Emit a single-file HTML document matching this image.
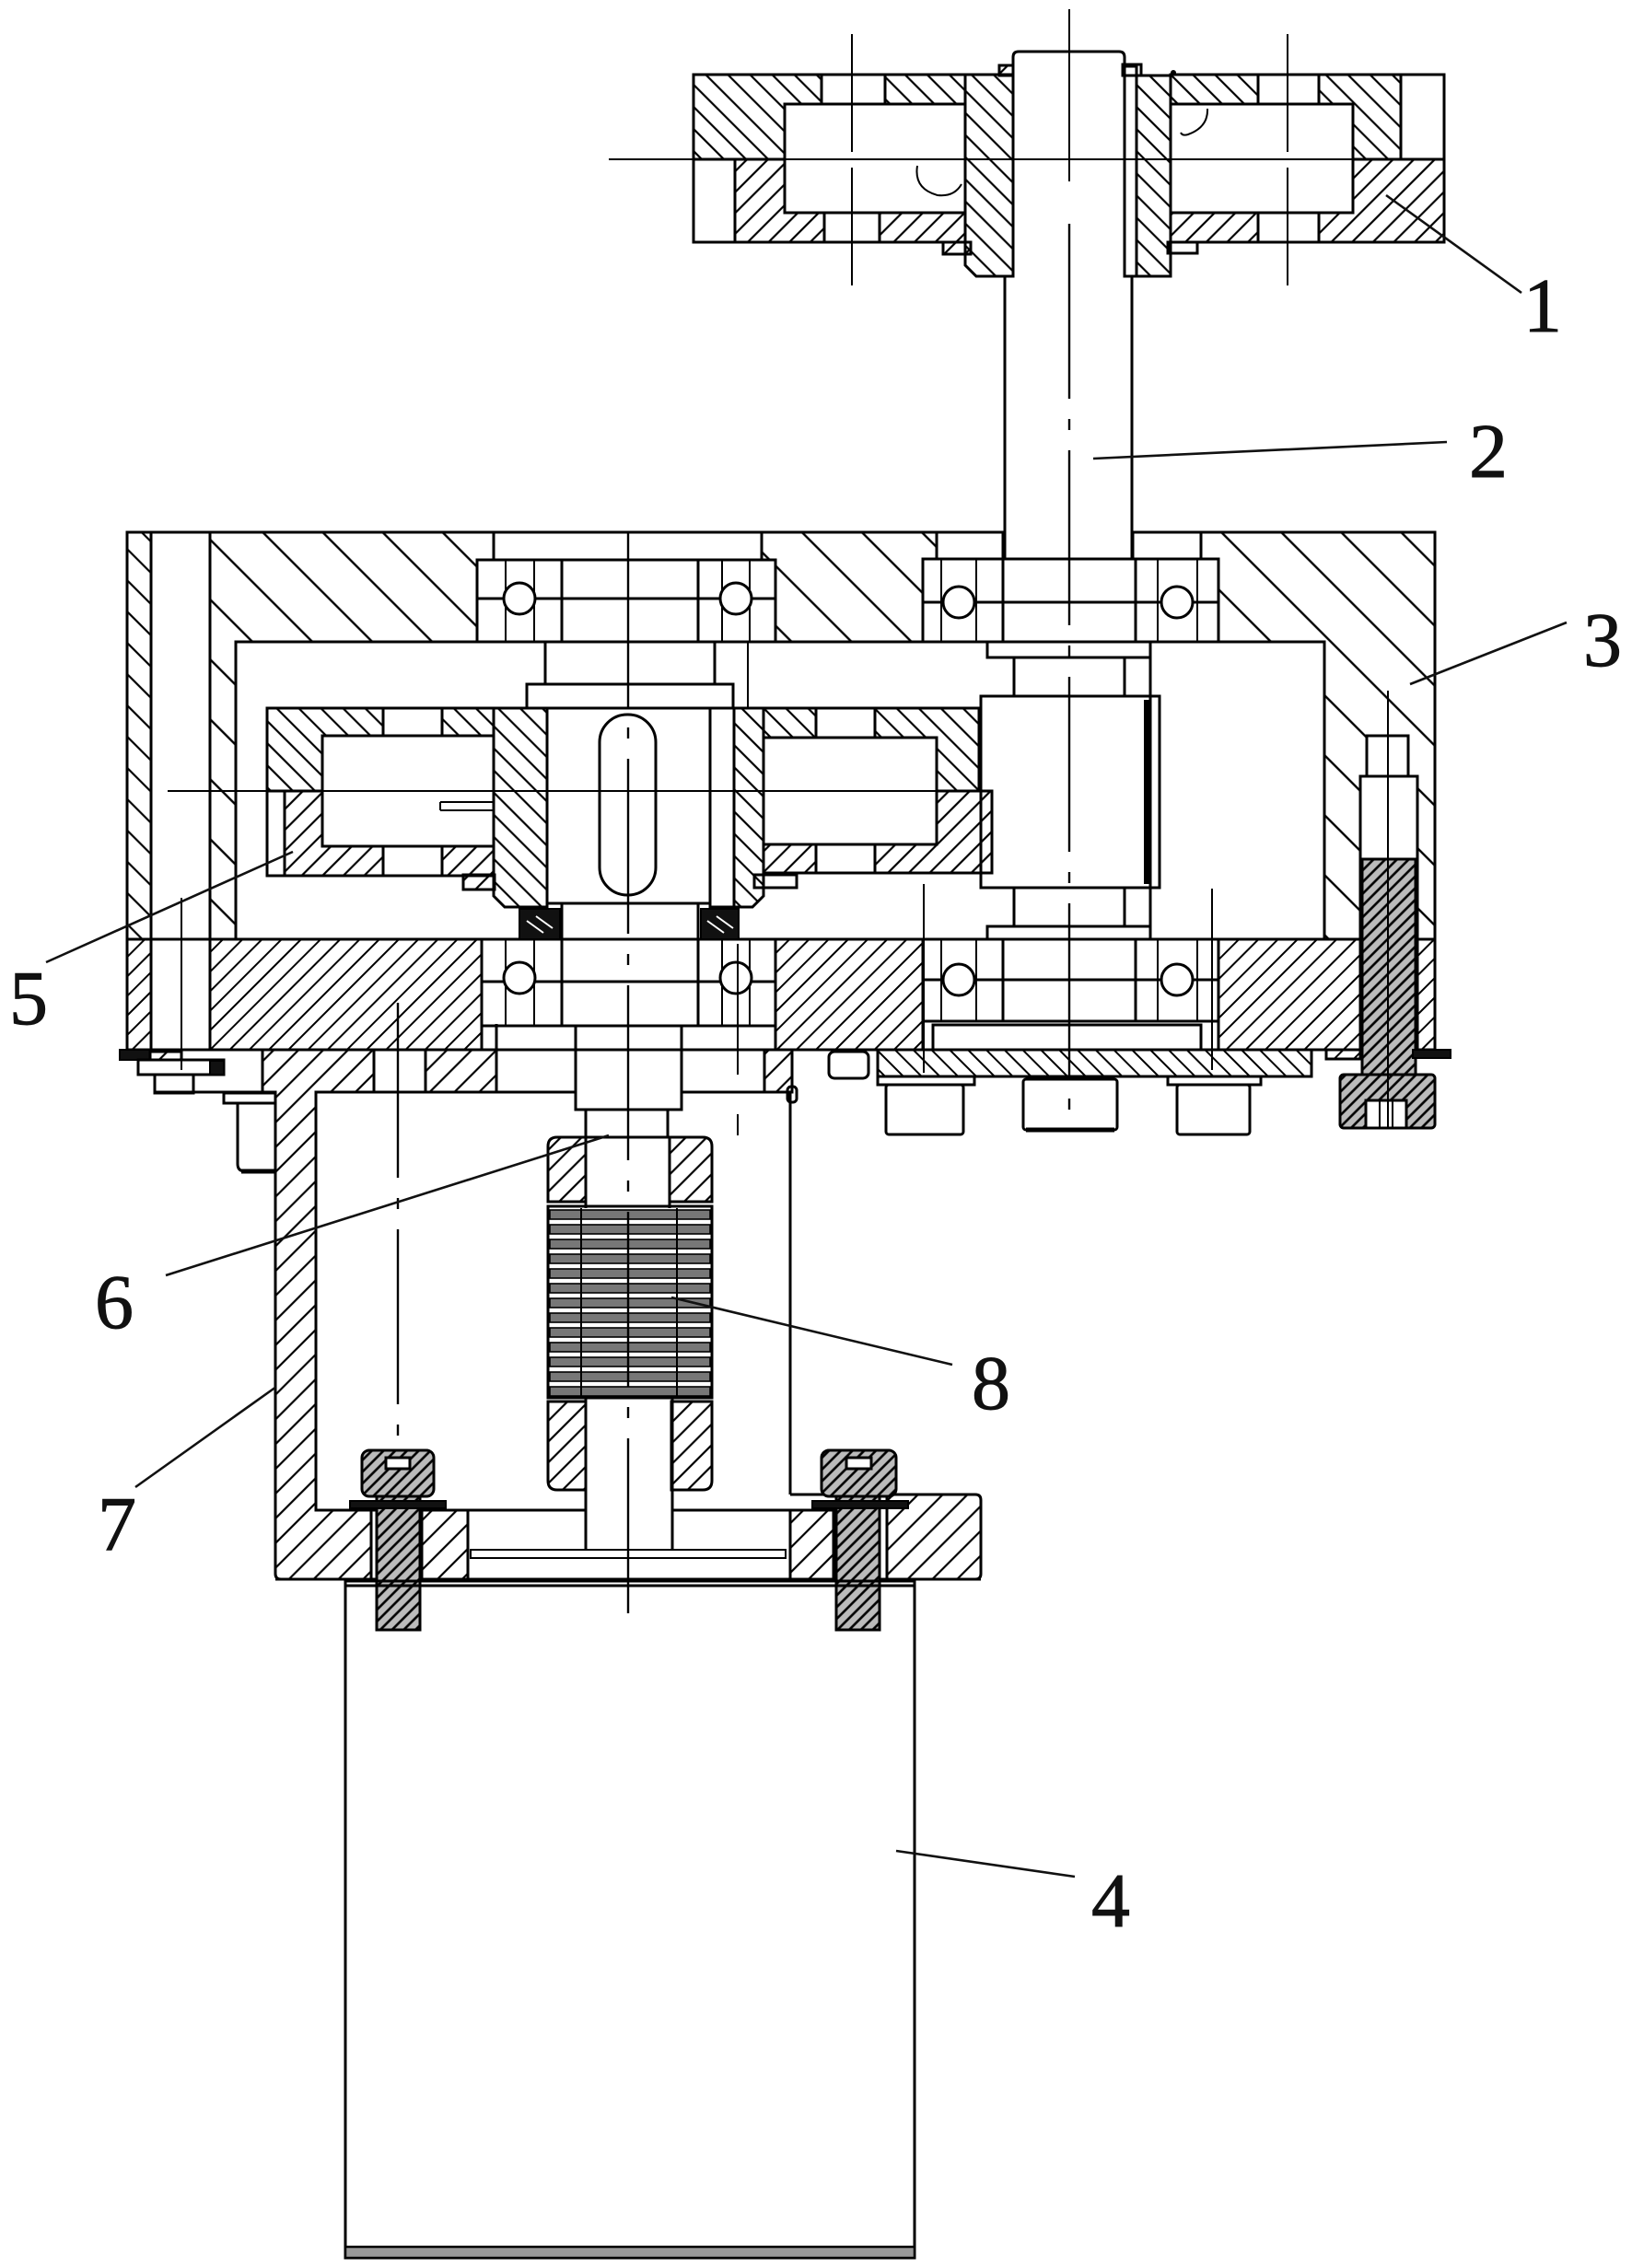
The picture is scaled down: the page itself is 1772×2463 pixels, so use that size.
<!DOCTYPE html>
<html><head><meta charset="utf-8">
<style>
html,body{margin:0;padding:0;background:#fff;}
svg{display:block}
.o{fill:none;stroke:#000;stroke-width:3}
.w{fill:#fff;stroke:#000;stroke-width:3}
.t{fill:none;stroke:#000;stroke-width:2}
.ld{fill:none;stroke:#111;stroke-width:2.6}
.hc{fill:url(#hc);stroke:#000;stroke-width:3}
.hcs{fill:url(#hcs);stroke:#000;stroke-width:3}
.hf{fill:url(#hf);stroke:#000;stroke-width:3}
.hfb{fill:url(#hfb);stroke:#000;stroke-width:3}
.cu{fill:url(#cu);stroke:#000;stroke-width:3}
.cl{fill:url(#cl);stroke:#000;stroke-width:3}
.bk{fill:url(#bk);stroke:#000;stroke-width:3}
.db{fill:url(#db);stroke:#000;stroke-width:3}
.blk{fill:#111;stroke:#000;stroke-width:2}
.ctr{fill:none;stroke:#000;stroke-width:2.4;stroke-dasharray:190 22 12 22}
.lbl{font-family:"Liberation Serif","DejaVu Serif",serif;font-size:84px;fill:#111;stroke:#111;stroke-width:0.9;text-anchor:middle}
</style></head>
<body>
<svg width="1772" height="2463" viewBox="0 0 1772 2463" xmlns="http://www.w3.org/2000/svg">
<defs>
 <pattern id="hc" width="46" height="46" patternUnits="userSpaceOnUse" patternTransform="rotate(-45)"><line x1="23" y1="-2" x2="23" y2="48" stroke="#000" stroke-width="2.4"/></pattern>
 <pattern id="hcs" width="24" height="24" patternUnits="userSpaceOnUse" patternTransform="rotate(-45)"><line x1="12" y1="-2" x2="12" y2="26" stroke="#000" stroke-width="2.2"/></pattern>
 <pattern id="hf" width="15" height="15" patternUnits="userSpaceOnUse" patternTransform="rotate(45)"><line x1="7.5" y1="-2" x2="7.5" y2="17" stroke="#000" stroke-width="2"/></pattern>
 <pattern id="hfb" width="14" height="14" patternUnits="userSpaceOnUse" patternTransform="rotate(-45)"><line x1="7" y1="-2" x2="7" y2="16" stroke="#000" stroke-width="2"/></pattern>
 <pattern id="cu" width="17" height="17" patternUnits="userSpaceOnUse" patternTransform="rotate(-45)"><line x1="8.5" y1="-2" x2="8.5" y2="19" stroke="#000" stroke-width="2.2"/></pattern>
 <pattern id="cl" width="16" height="16" patternUnits="userSpaceOnUse" patternTransform="rotate(45)"><line x1="8" y1="-2" x2="8" y2="18" stroke="#000" stroke-width="2.2"/></pattern>
 <pattern id="bk" width="19" height="19" patternUnits="userSpaceOnUse" patternTransform="rotate(45)"><line x1="9.5" y1="-2" x2="9.5" y2="21" stroke="#000" stroke-width="2.2"/></pattern>
 <pattern id="db" width="9" height="9" patternUnits="userSpaceOnUse" patternTransform="rotate(45)"><rect x="0" y="0" width="9" height="9" fill="#bbb"/><line x1="4.5" y1="-2" x2="4.5" y2="11" stroke="#000" stroke-width="2.6"/></pattern>
</defs>
<rect width="1772" height="2463" fill="#fff"/>

<!-- ================= COUPLING (1) ================= -->
<path class="cu" d="M753,81H892V113H852V173H753Z"/>
<path class="cu" d="M961,81H1048V113H961Z"/>
<path class="cl" d="M798,173H852V231H895V263H798Z"/>
<path class="cl" d="M955,231H1048V263H955Z"/>
<path class="cu" d="M1048,81H1100V300H1060L1048,288Z"/>
<path class="cu" d="M1234,82H1271V300H1234Z"/>
<path class="cu" d="M1271,81H1366V113H1271Z"/>
<path class="cu" d="M1432,81H1521V173H1469V113H1432Z"/>
<path class="cl" d="M1469,173H1568V263H1432V231H1469Z"/>
<path class="cl" d="M1271,231H1366V263H1271Z"/>
<rect class="o" x="753" y="173" width="45" height="90"/>
<rect class="o" x="1521" y="81" width="47" height="92"/>
<rect class="o" x="852" y="113" width="196" height="118"/>
<rect class="o" x="1271" y="113" width="198" height="118"/>
<rect class="o" x="892" y="81" width="69" height="32"/>
<rect class="o" x="895" y="231" width="60" height="32"/>
<rect class="o" x="1366" y="81" width="66" height="32"/>
<rect class="o" x="1366" y="231" width="66" height="32"/>
<path class="o" d="M1100,81V62Q1100,56 1106,56H1215Q1221,56 1221,62V81"/>
<rect class="o" x="1221" y="72" width="13" height="228"/>
<rect class="o" x="1219" y="70" width="20" height="12"/>
<rect class="cl" x="1085" y="71" width="15" height="11"/>
<rect class="cl" x="1024" y="263" width="30" height="13"/>
<rect class="o" x="1268" y="263" width="32" height="12"/>
<circle cx="1274" cy="79" r="3" fill="#000"/>
<path class="t" d="M996,180 Q992,205 1018,212 Q1036,214 1044,200"/>
<path class="t" d="M1311,118 Q1312,138 1290,146 Q1284,148 1282,144"/>
<!-- coupling centre lines -->
<line class="t" x1="661" y1="173" x2="1568" y2="173"/>
<line class="t" x1="925" y1="37" x2="925" y2="165"/>
<line class="t" x1="925" y1="182" x2="925" y2="310"/>
<line class="t" x1="1398" y1="37" x2="1398" y2="165"/>
<line class="t" x1="1398" y1="182" x2="1398" y2="310"/>

<!-- shaft 2 -->
<line class="o" x1="1091" y1="300" x2="1091" y2="608"/>
<line class="o" x1="1229" y1="300" x2="1229" y2="608"/>

<!-- ================= HOUSING (3) ================= -->
<path class="hcs" d="M138,578H164V1020H138Z"/>
<path class="hc" d="M228,578H536V608H518V697H256V1020H228Z"/>
<path class="hc" d="M827,578H1017V607H1002V697H842V608H827Z"/>
<path class="hc" d="M1304,578H1558V1020H1539V843H1529V799H1484V843H1477V1020H1438V697H1323V607H1304Z"/>
<path class="hf" d="M138,1020H164V1140H138Z"/>
<path class="hf" d="M228,1020H523V1140H228Z"/>
<path class="hf" d="M842,1020H1002V1140H842Z"/>
<path class="hf" d="M1323,1020H1477V1140H1323Z"/>
<path class="hf" d="M1539,1020H1558V1140H1539Z"/>
<path class="o" d="M1091,578H138V1140H1558V578H1229"/>
<line class="o" x1="138" y1="1020" x2="1558" y2="1020"/>
<line class="o" x1="164" y1="578" x2="164" y2="1140"/>
<line class="o" x1="228" y1="578" x2="228" y2="1140"/>
<line class="t" x1="197" y1="975" x2="197" y2="1162"/>
<!-- recesses -->
<rect class="o" x="536" y="578" width="291" height="30"/>
<rect class="o" x="1017" y="578" width="72" height="29"/>
<rect class="o" x="1230" y="578" width="74" height="29"/>
<!-- upper-left bearings -->
<rect class="o" x="518" y="608" width="324" height="89"/>
<rect class="o" x="518" y="608" width="92" height="89"/>
<rect class="o" x="758" y="608" width="84" height="89"/>
<line class="t" x1="549" y1="608" x2="549" y2="697"/><line class="t" x1="580" y1="608" x2="580" y2="697"/>
<line class="t" x1="784" y1="608" x2="784" y2="697"/><line class="t" x1="814" y1="608" x2="814" y2="697"/>
<line class="o" x1="518" y1="650" x2="842" y2="650"/>
<circle class="w" cx="564" cy="650" r="17"/><circle class="w" cx="799" cy="650" r="17"/>
<!-- upper-right bearings -->
<rect class="o" x="1002" y="607" width="321" height="90"/>
<rect class="o" x="1002" y="607" width="87" height="90"/>
<rect class="o" x="1233" y="607" width="90" height="90"/>
<line class="t" x1="1022" y1="607" x2="1022" y2="697"/><line class="t" x1="1060" y1="607" x2="1060" y2="697"/>
<line class="t" x1="1257" y1="607" x2="1257" y2="697"/><line class="t" x1="1300" y1="607" x2="1300" y2="697"/>
<line class="o" x1="1002" y1="654" x2="1323" y2="654"/>
<circle class="w" cx="1041" cy="654" r="17"/><circle class="w" cx="1278" cy="654" r="17"/>
<!-- lower-left bearings -->
<rect class="o" x="523" y="1020" width="319" height="94"/>
<rect class="o" x="523" y="1020" width="87" height="94"/>
<rect class="o" x="758" y="1020" width="84" height="94"/>
<line class="t" x1="549" y1="1020" x2="549" y2="1114"/><line class="t" x1="580" y1="1020" x2="580" y2="1114"/>
<line class="t" x1="784" y1="1020" x2="784" y2="1114"/><line class="t" x1="814" y1="1020" x2="814" y2="1114"/>
<line class="o" x1="523" y1="1066" x2="842" y2="1066"/>
<circle class="w" cx="564" cy="1062" r="17"/><circle class="w" cx="799" cy="1062" r="17"/>
<!-- lower-right bearings -->
<rect class="o" x="1002" y="1020" width="321" height="89"/>
<rect class="o" x="1002" y="1020" width="87" height="89"/>
<rect class="o" x="1233" y="1020" width="90" height="89"/>
<line class="t" x1="1022" y1="1020" x2="1022" y2="1109"/><line class="t" x1="1060" y1="1020" x2="1060" y2="1109"/>
<line class="t" x1="1257" y1="1020" x2="1257" y2="1109"/><line class="t" x1="1300" y1="1020" x2="1300" y2="1109"/>
<line class="o" x1="1002" y1="1064" x2="1323" y2="1064"/>
<circle class="w" cx="1041" cy="1064" r="17"/><circle class="w" cx="1278" cy="1064" r="17"/>
<rect class="o" x="1013" y="1113" width="291" height="27"/>

<!-- ================= GEAR (5) ================= -->
<path class="cu" d="M290,769H416V799H350V859H290Z"/>
<path class="cu" d="M480,769H536V799H480Z"/>
<path class="cl" d="M309,859H350V919H416V951H309Z"/>
<path class="cl" d="M480,919H536V951H480Z"/>
<rect class="o" x="290" y="859" width="19" height="92"/>
<path class="cu" d="M536,769H594V985H548L536,973Z"/>
<path class="cu" d="M797,769H829V973L817,985H797Z"/>
<path class="cu" d="M829,769H886V801H829Z"/>
<path class="cu" d="M950,769H1063V859H1017V801H950Z"/>
<path class="cl" d="M1017,859H1077V948H950V917H1017Z"/>
<path class="cl" d="M829,917H886V948H829Z"/>
<rect class="o" x="350" y="799" width="186" height="120"/>
<rect class="o" x="829" y="801" width="188" height="116"/>
<rect class="o" x="416" y="769" width="64" height="30"/>
<rect class="o" x="416" y="919" width="64" height="32"/>
<rect class="o" x="886" y="769" width="64" height="32"/>
<rect class="o" x="886" y="917" width="64" height="31"/>
<rect class="o" x="594" y="769" width="177" height="212"/>
<rect class="o" x="771" y="769" width="26" height="216"/>
<rect class="o" x="651" y="776" width="61" height="196" rx="30"/>
<rect class="o" x="572" y="743" width="224" height="26"/>
<rect class="o" x="592" y="697" width="184" height="46"/>
<line class="t" x1="812" y1="697" x2="812" y2="769"/>
<rect class="o" x="610" y="981" width="148" height="133"/>
<rect class="o" x="625" y="1114" width="115" height="91"/>
<rect class="o" x="636" y="1205" width="89" height="30"/>
<rect class="blk" x="564" y="987" width="44" height="33"/>
<rect class="blk" x="761" y="987" width="41" height="33"/>
<path d="M572,1000L590,1013M582,995L600,1008M768,1000L786,1013M778,995L796,1008" stroke="#fff" stroke-width="2"/>
<rect class="cl" x="503" y="950" width="34" height="16"/>
<rect class="o" x="819" y="950" width="46" height="14"/>
<path class="t" d="M478,871H536M478,880H536M478,871V880"/>
<line class="t" x1="182" y1="859" x2="1077" y2="859"/>

<!-- shaft 2 body in cavity -->
<rect class="o" x="1072" y="697" width="177" height="17"/>
<rect class="o" x="1101" y="714" width="120" height="42"/>
<rect class="o" x="1065" y="756" width="194" height="208"/>
<rect class="o" x="1101" y="964" width="120" height="42"/>
<rect class="o" x="1072" y="1006" width="177" height="14"/>
<line class="o" x1="1249" y1="697" x2="1249" y2="1020"/>
<line x1="1245" y1="760" x2="1245" y2="960" stroke="#000" stroke-width="6"/>
<line class="t" x1="1003" y1="960" x2="1003" y2="1165"/>
<line class="t" x1="1316" y1="965" x2="1316" y2="1162"/>

<!-- right wall bolt -->
<rect class="o" x="1484" y="799" width="45" height="44"/>
<rect class="o" x="1477" y="843" width="62" height="90"/>
<rect class="db" x="1479" y="933" width="58" height="234"/>
<rect class="db" x="1455" y="1167" width="103" height="58" rx="4"/>
<rect class="w" x="1483" y="1195" width="44" height="30"/>
<line class="t" x1="1498" y1="1195" x2="1498" y2="1225"/><line class="t" x1="1512" y1="1195" x2="1512" y2="1225"/>
<rect class="blk" x="1534" y="1140" width="41" height="9"/>
<rect class="hf" x="1440" y="1140" width="37" height="10"/>
<line class="t" x1="1507" y1="750" x2="1507" y2="1225"/>

<!-- end cap & connectors -->
<rect class="hfb" x="953" y="1140" width="471" height="29"/>
<rect class="o" x="953" y="1169" width="105" height="9"/>
<rect class="o" x="962" y="1178" width="84" height="54" rx="3"/>
<rect class="o" x="1111" y="1172" width="102" height="55" rx="3"/>
<line x1="1114" y1="1227" x2="1210" y2="1227" stroke="#000" stroke-width="5"/>
<rect class="o" x="1268" y="1169" width="101" height="9"/>
<rect class="o" x="1278" y="1178" width="79" height="54" rx="3"/>
<rect class="o" x="900" y="1142" width="43" height="29" rx="6"/>

<!-- left bottom bolt head -->
<rect class="blk" x="130" y="1140" width="33" height="11"/>
<rect class="cl" x="163" y="1142" width="34" height="9"/>
<rect class="o" x="150" y="1151" width="93" height="16"/>
<rect class="blk" x="228" y="1152" width="15" height="15"/>
<rect class="o" x="168" y="1167" width="42" height="20"/>
<line class="o" x1="168" y1="1186" x2="299" y2="1186"/>

<!-- ================= BRACKET (7) ================= -->
<path class="bk" d="M285,1140H406V1186H343V1640H403V1715H305Q299,1715 299,1709V1186H285Z"/>
<path class="bk" d="M462,1140H539V1186H462Z"/>
<path class="bk" d="M830,1140H860V1186H830Z"/>
<line class="o" x1="343" y1="1186" x2="625" y2="1186"/>
<line class="o" x1="740" y1="1186" x2="860" y2="1186"/>
<line class="o" x1="539" y1="1112" x2="539" y2="1186"/>
<line class="o" x1="858" y1="1186" x2="858" y2="1623"/>
<rect class="o" x="855" y="1180" width="10" height="17" rx="4"/>
<path class="bk" d="M458,1640H508V1715H458Z"/>
<path class="bk" d="M858,1640H905V1715H858Z"/>
<path class="bk" d="M963,1623H1059Q1065,1623 1065,1629V1709Q1065,1715 1059,1715H963Z"/>
<line class="o" x1="858" y1="1623" x2="963" y2="1623"/>
<line class="o" x1="343" y1="1640" x2="636" y2="1640"/>
<line class="o" x1="730" y1="1640" x2="858" y2="1640"/>
<line class="o" x1="508" y1="1640" x2="508" y2="1715"/>
<line class="o" x1="299" y1="1715" x2="1065" y2="1715"/>
<rect class="t" x="511" y="1683" width="342" height="9"/>
<!-- left pin -->
<rect class="o" x="243" y="1187" width="56" height="11"/>
<path class="o" d="M299,1198H258V1264Q258,1272 266,1272H299"/>
<line x1="262" y1="1272" x2="299" y2="1272" stroke="#000" stroke-width="5"/>

<!-- ================= COUPLING (6) + SPRING (8) ================= -->
<path class="cl" d="M595,1245Q595,1235 605,1235H636V1305H595Z"/>
<path class="cl" d="M727,1235H763Q773,1235 773,1245V1305H727Z"/>
<line class="o" x1="636" y1="1235" x2="636" y2="1312"/>
<line class="o" x1="727" y1="1235" x2="727" y2="1312"/>
<rect class="o" x="595" y="1310" width="178" height="208"/>
<g stroke="#000" stroke-width="1.6" fill="#777">
<rect x="597" y="1314" width="174" height="10"/><rect x="597" y="1330" width="174" height="10"/>
<rect x="597" y="1346" width="174" height="10"/><rect x="597" y="1362" width="174" height="10"/>
<rect x="597" y="1378" width="174" height="10"/><rect x="597" y="1394" width="174" height="10"/>
<rect x="597" y="1410" width="174" height="10"/><rect x="597" y="1426" width="174" height="10"/>
<rect x="597" y="1442" width="174" height="10"/><rect x="597" y="1458" width="174" height="10"/>
<rect x="597" y="1474" width="174" height="10"/><rect x="597" y="1490" width="174" height="10"/>
<rect x="597" y="1506" width="174" height="10"/>
</g>
<line class="t" x1="631" y1="1312" x2="631" y2="1518"/>
<line class="t" x1="735" y1="1312" x2="735" y2="1518"/>
<path class="cl" d="M595,1522H636V1618H605Q595,1618 595,1608Z"/>
<path class="cl" d="M729,1522H773V1608Q773,1618 763,1618H729Z"/>
<line class="o" x1="636" y1="1518" x2="636" y2="1683"/>
<line class="o" x1="730" y1="1518" x2="730" y2="1683"/>

<!-- bottom bolts -->
<rect class="db" x="409" y="1622" width="47" height="148"/>
<rect class="blk" x="380" y="1630" width="104" height="8"/>
<rect class="db" x="393" y="1575" width="78" height="50" rx="8"/>
<rect class="w" x="419" y="1583" width="26" height="12"/>
<rect class="db" x="908" y="1622" width="47" height="148"/>
<rect class="blk" x="882" y="1630" width="104" height="8"/>
<rect class="db" x="892" y="1575" width="81" height="50" rx="8"/>
<rect class="w" x="919" y="1583" width="27" height="12"/>

<!-- ================= MOTOR (4) ================= -->
<rect class="o" x="375" y="1717" width="618" height="735"/>
<line class="o" x1="375" y1="1722" x2="993" y2="1722"/>
<rect x="375" y="2440" width="618" height="12" fill="#999" stroke="#000" stroke-width="2.5"/>

<!-- ================= CENTRE LINES ================= -->
<line class="t" x1="1161" y1="10" x2="1161" y2="197"/>
<line class="ctr" x1="1161" y1="243" x2="1161" y2="1225"/>
<line class="ctr" x1="682" y1="578" x2="682" y2="1767"/>
<line class="ctr" x1="432" y1="1089" x2="432" y2="1575"/>
<line class="t" x1="801" y1="1025" x2="801" y2="1167"/>
<line class="t" x1="801" y1="1210" x2="801" y2="1233"/>

<!-- ================= LEADERS & LABELS ================= -->
<line class="ld" x1="1505" y1="212" x2="1652" y2="318"/>
<line class="ld" x1="1187" y1="498" x2="1571" y2="480"/>
<line class="ld" x1="1531" y1="743" x2="1701" y2="676"/>
<line class="ld" x1="318" y1="925" x2="50" y2="1045"/>
<line class="ld" x1="661" y1="1233" x2="180" y2="1385"/>
<line class="ld" x1="300" y1="1506" x2="147" y2="1615"/>
<line class="ld" x1="729" y1="1409" x2="1034" y2="1482"/>
<line class="ld" x1="973" y1="2010" x2="1167" y2="2038"/>
<text class="lbl" x="1675" y="360">1</text>
<text class="lbl" x="1616" y="518">2</text>
<text class="lbl" x="1740" y="723">3</text>
<text class="lbl" x="1206" y="2092">4</text>
<text class="lbl" x="31" y="1112">5</text>
<text class="lbl" x="124" y="1442">6</text>
<text class="lbl" x="127" y="1683">7</text>
<text class="lbl" x="1076" y="1530">8</text>
</svg>
</body></html>
